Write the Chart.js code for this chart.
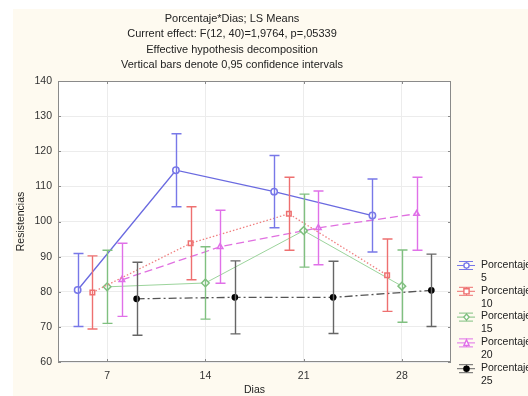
<!DOCTYPE html>
<html>
<head>
<meta charset="utf-8">
<script src="https://cdn.jsdelivr.net/npm/chart.js@4"></script>
<style>
  html, body { margin: 0; padding: 0; background: #fff; }
  #wrap { width: 528px; height: 396px; }
</style>
</head>
<body>
<div id="wrap"><canvas id="lsChart" width="528" height="396"></canvas></div>
<script>
// Porcentaje*Dias LS means with 0,95 confidence intervals
const days = [7, 14, 21, 28];
const seriesNames = ["Porcentaje\n5", "Porcentaje\n10", "Porcentaje\n15", "Porcentaje\n20", "Porcentaje\n25"];

const means5 = [80.5, 114.6, 108.5, 101.7];
const means10 = [79.8, 93.8, 102.2, 84.7];
const means15 = [81.4, 82.5, 97.4, 81.6];
const means20 = [83.4, 92.8, 98.2, 102.2];
const means25 = [78.0, 78.4, 78.4, 80.4];

// half width of the confidence interval
const ci5 = [10.4, 10.4, 10.3, 10.4];
const ci10 = [10.4, 10.4, 10.4, 10.3];
const ci15 = [10.4, 10.3, 10.4, 10.3];
const ci20 = [10.4, 10.4, 10.5, 10.4];
const ci25 = [10.4, 10.4, 10.3, 10.3];

const yTicks = [60, 70, 80, 90, 100, 110, 120, 130, 140];

const titleLines = [
  "Porcentaje*Dias; LS Means",
  "Current effect: F(12, 40)=1,9764, p=,05339",
  "Effective hypothesis decomposition",
  "Vertical bars denote 0,95 confidence intervals"
];

const styles = [
  { color: "#6a6ae0", bar: "#7878e8", dash: [], point: "circle", fill: false },
  { color: "#f08080", bar: "#ee7070", dash: [1.5, 2], point: "rect", fill: false },
  { color: "#9cd49c", bar: "#80c080", dash: [], point: "rectRot", fill: false },
  { color: "#e070e0", bar: "#e070e8", dash: [8, 4], point: "triangle", fill: false },
  { color: "#555555", bar: "#666666", dash: [8, 3, 2, 3], point: "circle", fill: true }
];

const allMeans = [means5, means10, means15, means20, means25];
const allCi = [ci5, ci10, ci15, ci20, ci25];

const datasets = allMeans.map((vals, i) => ({
  label: seriesNames[i],
  data: vals.map((v, j) => ({ x: days[j] + (i - 2) * 1.05, y: v })),
  ci: allCi[i],
  borderColor: styles[i].color,
  backgroundColor: styles[i].fill ? "#000" : "#fff",
  pointBorderColor: styles[i].fill ? "#000" : styles[i].bar,
  pointStyle: styles[i].point,
  pointRadius: i === 2 ? 3.8 : (i === 4 ? 2.6 : 3.2),
  pointBorderWidth: 1.5,
  borderWidth: i === 2 ? 1 : 1.3,
  borderDash: styles[i].dash,
  tension: 0,
  barColor: styles[i].bar
}));

const F = "'Liberation Sans', Arial, sans-serif";

const decor = {
  id: "decor",
  beforeDraw(chart) {
    const c = chart.ctx, a = chart.chartArea;
    c.save();
    c.fillStyle = "#fff";
    c.fillRect(0, 0, chart.width, chart.height);
    c.fillStyle = "#fefaf0";
    c.fillRect(13, 9, chart.width - 13, chart.height - 9);
    c.fillStyle = "#fff";
    c.fillRect(a.left, a.top, a.right - a.left, a.bottom - a.top);
    c.restore();
  },
  afterDatasetsDraw(chart) {
    const c = chart.ctx, xs = chart.scales.x, ys = chart.scales.y;
    c.save();
    chart.data.datasets.forEach(ds => {
      c.strokeStyle = ds.barColor;
      c.lineWidth = 1.4;
      ds.data.forEach((p, j) => {
        const px = Math.round(xs.getPixelForValue(p.x)) + 0.5;
        const t = ys.getPixelForValue(p.y + ds.ci[j]);
        const b = ys.getPixelForValue(p.y - ds.ci[j]);
        c.beginPath();
        c.moveTo(px, t); c.lineTo(px, b);
        c.moveTo(px - 5, t); c.lineTo(px + 5, t);
        c.moveTo(px - 5, b); c.lineTo(px + 5, b);
        c.stroke();
      });
    });
    c.restore();
  },
  afterDraw(chart) {
    const c = chart.ctx, a = chart.chartArea, xs = chart.scales.x, ys = chart.scales.y;
    c.save();
    // frame and inner tick marks
    c.strokeStyle = "#8a8a8a";
    c.lineWidth = 1;
    c.strokeRect(a.left + 0.5, a.top + 0.5, a.right - a.left - 1, a.bottom - a.top - 1);
    c.beginPath();
    yTicks.forEach(v => {
      const py = Math.round(ys.getPixelForValue(v)) + 0.5;
      c.moveTo(a.left, py); c.lineTo(a.left + 3, py);
      c.moveTo(a.right - 3, py); c.lineTo(a.right, py);
    });
    days.forEach(v => {
      const px = Math.round(xs.getPixelForValue(v)) + 0.5;
      c.moveTo(px, a.top); c.lineTo(px, a.top + 3);
      c.moveTo(px, a.bottom - 3); c.lineTo(px, a.bottom);
    });
    c.stroke();

    // title
    c.fillStyle = "#222";
    c.font = "11px " + F;
    c.textAlign = "center";
    c.textBaseline = "middle";
    titleLines.forEach((t, i) => c.fillText(t, 232, 19 + i * 15.3));

    // legend
    c.textAlign = "left";
    c.font = "10.5px " + F;
    chart.data.datasets.forEach((ds, i) => {
      const cy = 265 + i * 25.8;
      const x0 = 457, x1 = 475, mx = 466;
      c.strokeStyle = ds.barColor;
      c.lineWidth = 1;
      c.setLineDash([]);
      c.beginPath();
      c.moveTo(x0, cy + 0.5); c.lineTo(x1, cy + 0.5);
      c.moveTo(x0 + 2, cy - 3.5); c.lineTo(x1 - 2, cy - 3.5);
      c.moveTo(x0 + 2, cy + 4.5); c.lineTo(x1 - 2, cy + 4.5);
      c.moveTo(mx + 0.5, cy - 3.5); c.lineTo(mx + 0.5, cy + 4.5);
      c.stroke();
      c.fillStyle = ds.backgroundColor;
      c.strokeStyle = ds.pointBorderColor;
      c.beginPath();
      c.lineWidth = 1.4;
      const r = 2.6;
      if (ds.pointStyle === "circle") {
        c.arc(mx + 0.5, cy + 0.5, r, 0, Math.PI * 2);
      } else if (ds.pointStyle === "rect") {
        c.rect(mx + 0.5 - r, cy + 0.5 - r, 2 * r, 2 * r);
      } else if (ds.pointStyle === "rectRot") {
        c.moveTo(mx + 0.5, cy + 0.5 - r - 0.5); c.lineTo(mx + 0.5 + r, cy + 0.5);
        c.lineTo(mx + 0.5, cy + 1 + r); c.lineTo(mx + 0.5 - r, cy + 0.5); c.closePath();
      } else {
        c.moveTo(mx + 0.5, cy - r); c.lineTo(mx + 0.5 + r, cy + 0.5 + r);
        c.lineTo(mx + 0.5 - r, cy + 0.5 + r); c.closePath();
      }
      c.fill(); c.stroke();
      c.fillStyle = "#222";
      ds.label.split("\n").forEach((t, k) => c.fillText(t, 481, cy + k * 13));
    });
    c.restore();
  }
};

new Chart(document.getElementById("lsChart"), {
  type: "line",
  data: { datasets },
  plugins: [decor],
  options: {
    responsive: false,
    animation: false,
    layout: { padding: { left: 0, top: 81, right: 77, bottom: 0 } },
    plugins: {
      legend: { display: false },
      title: { display: false },
      tooltip: { enabled: false }
    },
    scales: {
      x: {
        type: "linear",
        min: 3.5,
        max: 31.5,
        afterBuildTicks: s => { s.ticks = days.map(v => ({ value: v })); },
        afterFit: s => { s.height = 34; },
        grid: { color: "#ececec", drawTicks: false },
        border: { display: false },
        ticks: { color: "#333", font: { family: F, size: 10.5 }, padding: 8 },
        title: { display: true, text: "Dias", color: "#222", font: { family: F, size: 10.5 }, padding: { top: 6, bottom: 0 } }
      },
      y: {
        min: 60,
        max: 140,
        afterBuildTicks: s => { s.ticks = yTicks.map(v => ({ value: v })); },
        afterFit: s => { s.width = 58; },
        grid: { color: "#ececec", drawTicks: false },
        border: { display: false },
        ticks: { color: "#333", font: { family: F, size: 10.5 }, padding: 6 },
        title: { display: true, text: "Resistencias", color: "#222", font: { family: F, size: 10.5 }, padding: { top: 15, bottom: 0 } }
      }
    }
  }
});
</script>
</body>
</html>
